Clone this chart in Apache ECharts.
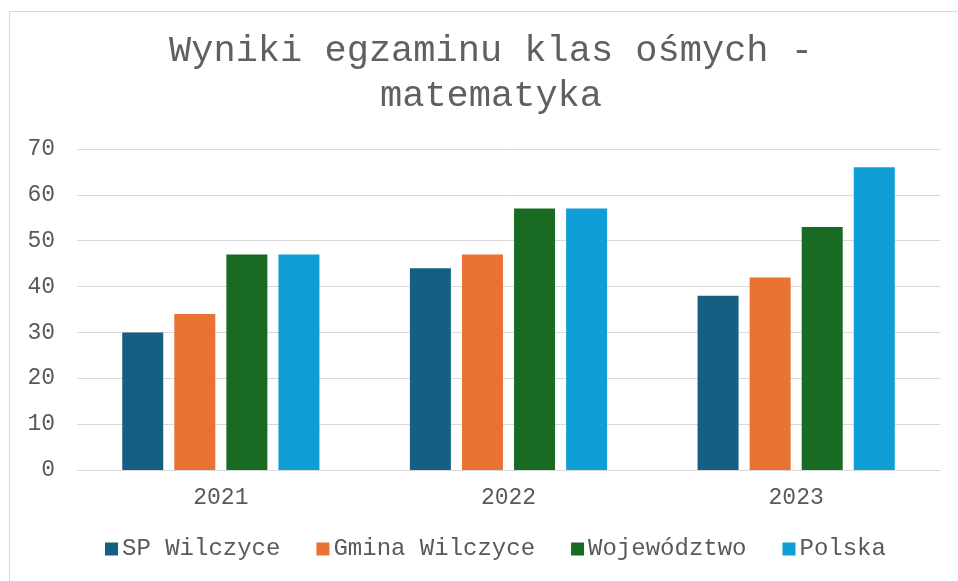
<!DOCTYPE html>
<html>
<head>
<meta charset="utf-8">
<script src="https://cdn.jsdelivr.net/npm/echarts@6/dist/echarts.min.js"></script>
<style>
  html, body { margin: 0; padding: 0; background: #fff; }
  #main { width: 958px; height: 581px; }
</style>
</head>
<body>
<div id="main"></div>
<script>
const titleText = 'Wyniki egzaminu klas ośmych -\nmatematyka'
const years = ['2021', '2022', '2023']
const spWilczyce = [30, 44, 38]
const gminaWilczyce = [34, 47, 42]
const wojewodztwo = [47, 57, 53]
const polska = [47, 57, 66]

const font = 'Liberation Mono'
const textColor = '#595959'

const chart = echarts.init(document.getElementById('main'))

function barSeries(name, data, color) {
  return {
    name: name,
    type: 'bar',
    barWidth: 41,
    barGap: '27%',
    itemStyle: { color: color },
    data: data
  }
}

const option = {
  animation: false,
  backgroundColor: '#fff',
  graphic: [{
    type: 'rect',
    shape: { x: 9.5, y: 11.5, width: 1000, height: 1000 },
    style: { fill: 'none', stroke: '#d9d9d9', lineWidth: 1 },
    silent: true
  }, {
    // chart title, centred a little right of the canvas middle like the original
    type: 'text',
    x: 491,
    y: 29,
    style: {
      text: titleText,
      fontFamily: font,
      fontSize: 37,
      lineHeight: 45,
      fill: '#606060',
      align: 'center',
      verticalAlign: 'top'
    },
    silent: true
  }],
  grid: {
    left: 77,
    right: 18,
    top: 149,
    bottom: 111
  },
  legend: {
    bottom: 15,
    left: 100,
    itemWidth: 13,
    itemHeight: 13,
    itemGap: 36,
    icon: 'rect',
    textStyle: { fontFamily: font, fontSize: 24, color: textColor, padding: [0, 0, 0, -1] },
    data: ['SP Wilczyce', 'Gmina Wilczyce', 'Województwo', 'Polska']
  },
  xAxis: {
    type: 'category',
    data: years,
    axisLine: { lineStyle: { color: '#d9d9d9', width: 1 } },
    axisTick: { show: false },
    axisLabel: { fontFamily: font, fontSize: 23, color: textColor, margin: 16 }
  },
  yAxis: {
    type: 'value',
    min: 0,
    max: 70,
    interval: 10,
    axisLine: { show: false },
    axisTick: { show: false },
    splitLine: { lineStyle: { color: '#d9d9d9', width: 1 } },
    axisLabel: { fontFamily: font, fontSize: 23, color: textColor, margin: 22 }
  },
  series: [
    barSeries('SP Wilczyce', spWilczyce, '#156082'),
    barSeries('Gmina Wilczyce', gminaWilczyce, '#E97132'),
    barSeries('Województwo', wojewodztwo, '#196B24'),
    barSeries('Polska', polska, '#0F9ED5')
  ]
}

chart.setOption(option)
</script>
</body>
</html>
